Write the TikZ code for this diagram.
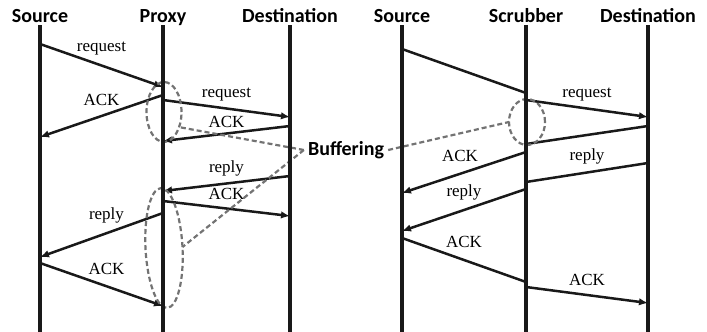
\documentclass[tikz,border=0pt]{standalone}
\usepackage{fontspec}
\setmainfont{Liberation Serif}
\setsansfont{Carlito}
\usetikzlibrary{arrows.meta,shapes.geometric}

\begin{document}
\begin{tikzpicture}[x=1pt, y=-1pt,
    head/.style={font=\fontsize{20}{20}\selectfont\sffamily\bfseries,
                 inner sep=0pt},
    life/.style={line width=4pt, draw=black!90},
    msg/.style={line width=2.5pt, draw=black!90,
                -{Latex[length=9pt,width=7.5pt]}},
    seg/.style={line width=2.5pt, draw=black!90},
    lbl/.style={font=\fontsize{17}{17}\selectfont, inner sep=1pt},
    buf/.style={ellipse, draw=black!55, line width=2.2pt,
                dash pattern=on 5pt off 3pt, inner sep=0pt, outer sep=0pt},
    link/.style={draw=black!55, line width=2.2pt, dash pattern=on 5pt off 3pt}]
    \useasboundingbox (0,0) rectangle (707,332);

    % Proxy

    \node (lsource) [head, anchor=base] at (40,22) {Source};
    \node (proxy) [head, anchor=base] at (163,22) {Proxy};
    \node (ldest) [head, anchor=base] at (290,22) {Destination};

    \draw[msg] (lsource |- 0,44) -- node[lbl, above=8pt] (lreq1) {request}
               (proxy |- 0,87);
    \draw[msg] (proxy |- 0,95) -- node[lbl, above=8.5pt] (lack1) {ACK}
               (lsource |- 0,137);
    \draw[msg] (proxy |- 0,100) -- node[lbl, above=5pt] (lreq2) {request}
               (ldest |- 0,117);
    \draw[msg] (ldest |- 0,126) -- node[lbl, above=4pt] (lack2) {ACK}
               (proxy |- 0,141);
    \draw[msg] (ldest |- 0,176) -- node[lbl, above=5pt] (lrep1) {reply}
               (proxy |- 0,191);
    \draw[msg] (proxy |- 0,201) -- node[lbl, above=7pt] (lack3) {ACK}
               (ldest |- 0,216);
    \draw[msg] (proxy |- 0,213) -- node[lbl, above=9.5pt, xshift=5pt] (lrep2)
               {reply} (lsource |- 0,257);
    \draw[msg] (lsource |- 0,263) -- node[lbl, above=8pt, xshift=5pt] (lack4)
               {ACK} (proxy |- 0,306);

    % Scrubber

    \node (rsource) [head, anchor=base] at (402,22) {Source};
    \node (scrubber) [head, anchor=base] at (526,22) {Scrubber};
    \node (rdest) [head, anchor=base] at (648,22) {Destination};

    \draw[seg] (rsource |- 0,49) -- (scrubber |- 0,93);
    \draw[msg] (scrubber |- 0,100) -- node[lbl, above=5pt] (rreq1) {request}
               (rdest |- 0,117);
    \draw[seg] (rdest |- 0,126) -- (scrubber |- 0,144);
    \draw[msg] (scrubber |- 0,152) -- node[lbl, above=9pt, xshift=-4pt] (rack1)
               {ACK} (rsource |- 0,193);
    \draw[seg] (rdest |- 0,163) -- node[lbl, above=6pt] (rrep1) {reply}
               (scrubber |- 0,182);
    \draw[msg] (scrubber |- 0,189) -- node[lbl, above=7.5pt] (rrep2) {reply}
               (rsource |- 0,231);
    \draw[seg] (rsource |- 0,238) -- node[lbl, above=10.5pt] (rack2) {ACK}
               (scrubber |- 0,282);
    \draw[msg] (scrubber |- 0,287) -- node[lbl, above=7.5pt] (rack3) {ACK}
               (rdest |- 0,303);

    % Buffering

    \node (ellreq) [buf, minimum width=35pt, minimum height=60pt]
          at (164,112) {};
    \node (ellrep) [buf, minimum width=37pt, minimum height=120pt, rotate=3]
          at (164,248) {};
    \node (ellscrub) [buf, minimum width=36pt, minimum height=46pt]
          at (527,122) {};
    \node (buffer) [head, inner sep=4pt] at (346,150) {Buffering};
    \draw[link] (buffer.west) -- (ellreq.-45);
    \draw[link] (buffer.west) -- (ellrep.east);
    \draw[link] (buffer.east) -- (ellscrub.west);

    \foreach \n in {lsource,proxy,ldest,rsource,scrubber,rdest}
        \draw[life] (\n |- 0,25) -- (\n |- 0,332);
\end{tikzpicture}
\end{document}
